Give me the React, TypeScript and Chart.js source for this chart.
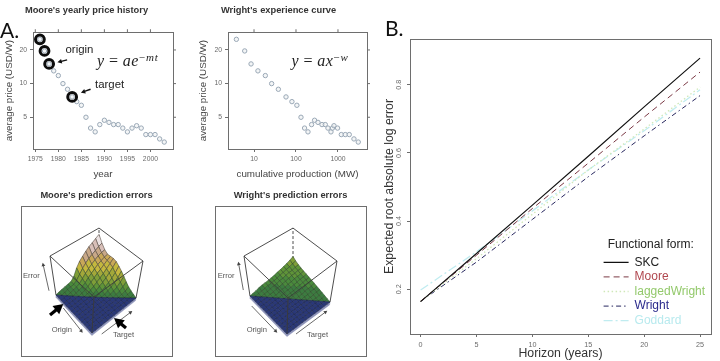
import React, { useEffect, useRef } from "react";
import { Chart, registerables } from "chart.js";

Chart.register(...registerables);

// ---------- Panel A: price histories ----------
const years = [1976, 1977, 1978, 1979, 1980, 1981, 1982, 1983, 1984, 1985, 1986, 1987, 1988, 1989, 1990, 1991, 1992, 1993, 1994, 1995, 1996, 1997, 1998, 1999, 2000, 2001, 2002, 2003];
const prices = [24.9, 19.6, 15, 13, 11.8, 10, 8.9, 7.6, 6.9, 6.4, 5, 4, 3.7, 4.3, 4.7, 4.5, 4.3, 4.3, 4, 3.7, 4, 4.2, 4, 3.5, 3.5, 3.5, 3.2, 3];
const production = [3.8, 6, 8.5, 12.4, 18.6, 26.3, 38, 57.8, 80, 105, 131.5, 160, 193, 235, 277, 334, 416, 499, 578, 681, 740, 803, 978, 1200, 1493, 1858, 2404, 3042];
const highlightedYears = [1976, 1977, 1978, 1983];
const yearTicks = [1975, 1980, 1985, 1990, 1995, 2000];
const priceTicks = [5, 10, 20];
const productionTicks = [10, 100, 1000];

// ---------- Panel A: error surfaces (row = origin step, column = target step) ----------
const mooreErrors = [
  [0, 0.02, 0.03, 0.04, 0.05, 0.06, 0.14, 0.3, 0.42, 0.5, 0.58, 0.65, 0.7, 0.76, 0.82],
  [0, 0, 0.02, 0.03, 0.04, 0.05, 0.1, 0.2, 0.3, 0.38, 0.45, 0.5, 0.55, 0.6, 0.64],
  [0, 0, 0, 0.02, 0.03, 0.05, 0.08, 0.15, 0.23, 0.3, 0.36, 0.42, 0.47, 0.5, 0.52],
  [0, 0, 0, 0, 0.02, 0.03, 0.06, 0.11, 0.18, 0.24, 0.3, 0.36, 0.4, 0.44, 0.46],
  [0, 0, 0, 0, 0, 0.02, 0.04, 0.08, 0.13, 0.19, 0.25, 0.3, 0.36, 0.42, 0.47],
  [0, 0, 0, 0, 0, 0, 0.02, 0.05, 0.09, 0.14, 0.19, 0.25, 0.32, 0.4, 0.48],
  [0, 0, 0, 0, 0, 0, 0, 0.02, 0.05, 0.1, 0.14, 0.2, 0.27, 0.36, 0.46],
  [0, 0, 0, 0, 0, 0, 0, 0, 0.02, 0.05, 0.09, 0.14, 0.2, 0.28, 0.4],
  [0, 0, 0, 0, 0, 0, 0, 0, 0, 0.02, 0.05, 0.09, 0.14, 0.22, 0.33],
  [0, 0, 0, 0, 0, 0, 0, 0, 0, 0, 0.02, 0.05, 0.09, 0.16, 0.25],
  [0, 0, 0, 0, 0, 0, 0, 0, 0, 0, 0, 0.02, 0.05, 0.1, 0.17],
  [0, 0, 0, 0, 0, 0, 0, 0, 0, 0, 0, 0, 0.02, 0.05, 0.1],
  [0, 0, 0, 0, 0, 0, 0, 0, 0, 0, 0, 0, 0, 0.02, 0.06],
  [0, 0, 0, 0, 0, 0, 0, 0, 0, 0, 0, 0, 0, 0, 0.03],
  [0, 0, 0, 0, 0, 0, 0, 0, 0, 0, 0, 0, 0, 0, 0],
];
const wrightErrors = [
  [0, 0.01, 0.02, 0.04, 0.05, 0.05, 0.05, 0.06, 0.07, 0.09, 0.1, 0.12, 0.14, 0.17, 0.21],
  [0, 0, 0.01, 0.02, 0.03, 0.04, 0.04, 0.05, 0.06, 0.08, 0.09, 0.11, 0.12, 0.14, 0.16],
  [0, 0, 0, 0.01, 0.02, 0.03, 0.04, 0.05, 0.06, 0.07, 0.09, 0.1, 0.1, 0.12, 0.13],
  [0, 0, 0, 0, 0.01, 0.02, 0.03, 0.04, 0.05, 0.06, 0.08, 0.09, 0.09, 0.1, 0.11],
  [0, 0, 0, 0, 0, 0.01, 0.02, 0.03, 0.04, 0.05, 0.06, 0.08, 0.08, 0.09, 0.1],
  [0, 0, 0, 0, 0, 0, 0.01, 0.02, 0.03, 0.04, 0.05, 0.06, 0.07, 0.08, 0.09],
  [0, 0, 0, 0, 0, 0, 0, 0.01, 0.02, 0.03, 0.04, 0.05, 0.06, 0.07, 0.08],
  [0, 0, 0, 0, 0, 0, 0, 0, 0.01, 0.02, 0.03, 0.04, 0.05, 0.06, 0.07],
  [0, 0, 0, 0, 0, 0, 0, 0, 0, 0.01, 0.02, 0.03, 0.04, 0.05, 0.06],
  [0, 0, 0, 0, 0, 0, 0, 0, 0, 0, 0.01, 0.02, 0.03, 0.04, 0.05],
  [0, 0, 0, 0, 0, 0, 0, 0, 0, 0, 0, 0.01, 0.02, 0.03, 0.04],
  [0, 0, 0, 0, 0, 0, 0, 0, 0, 0, 0, 0, 0.01, 0.02, 0.03],
  [0, 0, 0, 0, 0, 0, 0, 0, 0, 0, 0, 0, 0, 0.01, 0.02],
  [0, 0, 0, 0, 0, 0, 0, 0, 0, 0, 0, 0, 0, 0, 0.01],
  [0, 0, 0, 0, 0, 0, 0, 0, 0, 0, 0, 0, 0, 0, 0],
];

// ---------- Panel B ----------
const horizons = [0, 5, 10, 15, 20, 25];
const skcError = [0.164, 0.305, 0.447, 0.59, 0.735, 0.878];
const mooreError = [0.165, 0.3, 0.437, 0.57, 0.705, 0.837];
const laggedWrightError = [0.165, 0.29, 0.42, 0.55, 0.67, 0.793];
const wrightError = [0.165, 0.28, 0.405, 0.53, 0.65, 0.768];
const goddardError = [0.198, 0.31, 0.43, 0.55, 0.665, 0.785];
const horizonTicks = [0, 5, 10, 15, 20, 25];
const errorTicks = [0.2, 0.4, 0.6, 0.8];

const INK = "#6e6e6e";
const TICK_TEXT = "#6a6a6a";
const SANS = "'Liberation Sans', Arial, sans-serif";

type XY = [number, number];
type Arrow = { from: XY; to: XY; width: number; head: number; color: string };

// Frame, mirrored lattice ticks and annotation arrows, placed through the chart's scales.
function overlay(mirror: boolean, arrows: Arrow[], frameColor = INK) {
  return {
    id: "overlay",
    afterDatasetsDraw(chart: any) {
      const { ctx, chartArea: a, scales } = chart;
      ctx.save();
      ctx.strokeStyle = frameColor;
      ctx.lineWidth = 1;
      ctx.strokeRect(Math.round(a.left) + 0.5, Math.round(a.top) + 0.5, Math.round(a.right - a.left), Math.round(a.bottom - a.top));
      if (mirror) {
        ctx.beginPath();
        scales.x.ticks.forEach((t: any) => {
          const p = scales.x.getPixelForValue(t.value);
          ctx.moveTo(p, a.top);
          ctx.lineTo(p, a.top - 3);
        });
        scales.y.ticks.forEach((t: any) => {
          const p = scales.y.getPixelForValue(t.value);
          ctx.moveTo(a.right, p);
          ctx.lineTo(a.right + 3, p);
        });
        ctx.stroke();
      }
      arrows.forEach((ar) => {
        const x0 = scales.x.getPixelForValue(ar.from[0]);
        const y0 = scales.y.getPixelForValue(ar.from[1]);
        const x1 = scales.x.getPixelForValue(ar.to[0]);
        const y1 = scales.y.getPixelForValue(ar.to[1]);
        const ang = Math.atan2(y1 - y0, x1 - x0);
        ctx.strokeStyle = ar.color;
        ctx.fillStyle = ar.color;
        ctx.lineWidth = ar.width;
        ctx.beginPath();
        ctx.moveTo(x0, y0);
        ctx.lineTo(x1 - Math.cos(ang) * ar.head * 0.6, y1 - Math.sin(ang) * ar.head * 0.6);
        ctx.stroke();
        ctx.beginPath();
        ctx.moveTo(x1, y1);
        ctx.lineTo(x1 - Math.cos(ang - 0.5) * ar.head, y1 - Math.sin(ang - 0.5) * ar.head);
        ctx.lineTo(x1 - Math.cos(ang + 0.5) * ar.head, y1 - Math.sin(ang + 0.5) * ar.head);
        ctx.closePath();
        ctx.fill();
      });
      ctx.restore();
    },
  };
}

const fixedTicks = (list: number[]) => (s: any) => {
  s.ticks = list.map((value) => ({ value }));
};
const fixedWidth = (w: number) => (s: any) => {
  s.width = w;
};
const fixedHeight = (h: number) => (s: any) => {
  s.height = h;
};

const axisGrid = { drawOnChartArea: false, drawTicks: true, tickLength: 3, color: INK };

function titleOpt(text: string, top: number, bottom: number) {
  return {
    display: true,
    text,
    color: "#333",
    font: { family: SANS, size: 9.3, weight: "bold" as const, lineHeight: 1.2 },
    padding: { top, bottom },
  };
}

function priceChart(canvas: HTMLCanvasElement, cfg: any) {
  return new Chart(canvas, {
    type: "scatter",
    data: { datasets: cfg.datasets },
    options: {
      animation: false,
      responsive: false,
      devicePixelRatio: 1,
      layout: { padding: { left: 0, right: cfg.padRight, top: 0, bottom: 0 } },
      plugins: {
        legend: { display: false },
        tooltip: { enabled: false },
        title: titleOpt(cfg.title, 4.5, 16.6),
      },
      scales: {
        x: {
          ...cfg.x,
          afterFit: fixedHeight(31),
          grid: axisGrid,
          border: { display: false },
          ticks: { color: TICK_TEXT, font: { family: SANS, size: 6.8 }, padding: 3, autoSkip: false, maxRotation: 0, callback: (v: any) => String(v) },
          title: { display: true, text: cfg.xTitle, color: "#444", font: { family: SANS, size: 9.8 }, padding: { top: 2, bottom: 0 } },
        },
        y: {
          type: "logarithmic",
          min: 2.6,
          max: 28.8,
          afterBuildTicks: fixedTicks(priceTicks),
          afterFit: fixedWidth(cfg.yWidth),
          grid: axisGrid,
          border: { display: false },
          ticks: { color: TICK_TEXT, font: { family: SANS, size: 6.8 }, padding: 3, autoSkip: false, callback: (v: any) => String(v) },
          title: { display: true, text: "average price (USD/W)", color: "#444", font: { family: SANS, size: 9.8 }, padding: { top: cfg.yTitleOffset, bottom: 0 } },
        },
      } as any,
    },
    plugins: [overlay(true, cfg.arrows)],
  } as any);
}

const pointStyleFor = (points: { x: number; y: number }[]) => ({
  data: points,
  pointRadius: 2.2,
  pointBorderWidth: 1,
  pointBorderColor: "#9aa8b6",
  pointBackgroundColor: "rgba(235,238,240,0.6)",
  showLine: false,
});

const ringStyleFor = (points: { x: number; y: number }[]) => ({
  data: points,
  pointRadius: 4.4,
  pointBorderWidth: 3,
  pointBorderColor: "#0c0c0c",
  pointBackgroundColor: "rgba(0,0,0,0)",
  showLine: false,
});

// ---------- Surface ----------
type Corners = { L: XY; B: XY; R: XY; F: XY; Lt: XY; Bt: XY; Rt: XY; Ft: XY };

const mooreBox: Corners = { L: [56, 295], B: [99, 263], R: [136, 298], F: [92, 333], Lt: [50, 256], Bt: [99, 228], Rt: [143, 261], Ft: [94, 297] };
const wrightBox: Corners = { L: [250, 296], B: [293, 264], R: [330, 302], F: [287, 334], Lt: [244, 256], Bt: [293, 228], Rt: [337, 261], Ft: [288, 298] };

const heightBands: [number, string][] = [
  [0.04, "#3c7c40"],
  [0.08, "#4a8a3c"],
  [0.13, "#5f9438"],
  [0.2, "#7f9e38"],
  [0.28, "#a3a83a"],
  [0.38, "#c4b83e"],
  [0.47, "#c9a858"],
  [0.56, "#c8a888"],
  [0.68, "#d8bfb8"],
  [9, "#ece2e2"],
];
const FLOOR_BLUE = "#2a3878";

function bandColor(h: number) {
  for (const [limit, color] of heightBands) if (h <= limit) return color;
  return "#f2ecec";
}

function project(box: Corners, s: number, t: number, h: number) {
  const bil = (a: XY, b: XY, c: XY, d: XY, i: number) => (1 - s) * (1 - t) * a[i] + s * (1 - t) * b[i] + s * t * c[i] + (1 - s) * t * d[i];
  const fx = bil(box.L, box.B, box.R, box.F, 0);
  const fy = bil(box.L, box.B, box.R, box.F, 1);
  const tx = bil(box.Lt, box.Bt, box.Rt, box.Ft, 0);
  const ty = bil(box.Lt, box.Bt, box.Rt, box.Ft, 1);
  return { x: fx + (tx - fx) * h, y: fy + (ty - fy) * h };
}

function surfaceDatasets(box: Corners, grid: number[][], meshBlue: string, meshGreen: string) {
  const n = grid.length - 1;
  const cells: { depth: number; ds: any }[] = [];
  const poly = (keys: [number, number][], color: string, mesh: string, depth: number) => {
    const pts = keys.map(([j, i]) => project(box, j / n, i / n, grid[i][j]));
    pts.push(pts[0]);
    cells.push({
      depth,
      ds: { data: pts, fill: "shape", backgroundColor: color, borderColor: mesh, borderWidth: 0.55, pointRadius: 0, tension: 0 },
    });
  };
  for (let i = 0; i < n; i++) {
    for (let j = 0; j < n; j++) {
      const depth = i - j;
      if (i === j) {
        poly([[j, i], [j + 1, i + 1], [j, i + 1]], FLOOR_BLUE, meshBlue, depth + 0.5);
        poly([[j, i], [j + 1, i], [j + 1, i + 1]], heightBands[0][1], meshGreen, depth);
      } else if (i > j) {
        poly([[j, i], [j + 1, i], [j + 1, i + 1], [j, i + 1]], FLOOR_BLUE, meshBlue, depth);
      } else {
        const avg = (grid[i][j] + grid[i][j + 1] + grid[i + 1][j] + grid[i + 1][j + 1]) / 4;
        poly([[j, i], [j + 1, i], [j + 1, i + 1], [j, i + 1]], bandColor(avg), avg > 0.3 ? "#4a4038" : meshGreen, depth);
      }
    }
  }
  cells.sort((a, b) => b.depth - a.depth);
  const edge = (pts: XY[], dash: number[] = []) => ({
    data: pts.map(([x, y]) => ({ x, y })),
    borderColor: "#3a3a3a",
    borderWidth: 0.9,
    borderDash: dash,
    pointRadius: 0,
    fill: false,
    tension: 0,
  });
  const front = [edge([box.Lt, box.Ft, box.Rt]), edge([box.F, box.Ft])];
  const back = [
    edge([box.Lt, box.Bt, box.Rt]),
    edge([box.L, box.Lt]),
    edge([box.R, box.Rt]),
    edge([box.B, box.Bt], [3, 2]),
  ];
  const skirtPts = [project(box, 0, 0, 0), project(box, 0, 1, 0), project(box, 1, 1, 0), project(box, 1, 1, -0.07), project(box, 0, 1, -0.07), project(box, 0, 0, -0.07)];
  skirtPts.push(skirtPts[0]);
  const skirt = { data: skirtPts, fill: "shape", backgroundColor: "#8d93b8", borderColor: "#8d93b8", borderWidth: 0.5, pointRadius: 0, tension: 0 };
  return [...front, ...cells.map((c) => c.ds), skirt, ...back];
}

function surfaceChart(canvas: HTMLCanvasElement, cfg: any) {
  return new Chart(canvas, {
    type: "line",
    data: { datasets: cfg.datasets },
    options: {
      animation: false,
      responsive: false,
      devicePixelRatio: 1,
      layout: { padding: { left: cfg.padLeft, right: cfg.padRight, top: 0, bottom: 5 } },
      plugins: {
        legend: { display: false },
        tooltip: { enabled: false },
        title: titleOpt(cfg.title, 9.5, 5.4),
      },
      scales: {
        x: { type: "linear", display: false, min: cfg.xMin, max: cfg.xMax },
        y: { type: "linear", display: false, min: 206, max: 356, reverse: true },
      },
    },
    plugins: [overlay(false, cfg.arrows)],
  } as any);
}

function Label(p: { x: number; y: number; size: number; color?: string; family?: string; spacing?: number; children: React.ReactNode }) {
  return (
    <div
      style={{
        position: "absolute",
        left: p.x,
        top: p.y,
        transform: "translateY(-50%)",
        fontSize: p.size,
        lineHeight: 1,
        letterSpacing: p.spacing || 0,
        color: p.color || "#333",
        fontFamily: p.family || SANS,
        whiteSpace: "nowrap",
      }}
    >
      {p.children}
    </div>
  );
}

export default function App() {
  const a1 = useRef<HTMLCanvasElement>(null);
  const a2 = useRef<HTMLCanvasElement>(null);
  const a3 = useRef<HTMLCanvasElement>(null);
  const a4 = useRef<HTMLCanvasElement>(null);
  const b = useRef<HTMLCanvasElement>(null);

  useEffect(() => {
    const moorePts = years.map((x, i) => ({ x, y: prices[i] }));
    const ringPts = moorePts.filter((p) => highlightedYears.includes(p.x));
    const wrightPts = production.map((x, i) => ({ x, y: prices[i] }));

    const thin = (from: XY, to: XY): Arrow => ({ from, to, width: 0.8, head: 4, color: "#444" });
    const fat = (from: XY, to: XY): Arrow => ({ from, to, width: 3.2, head: 11, color: "#000" });
    const note = (from: XY, to: XY): Arrow => ({ from, to, width: 1.4, head: 5, color: "#111" });

    const charts = [
      priceChart(a1.current!, {
        title: "Moore's yearly price history",
        padRight: 17,
        yWidth: 33,
        yTitleOffset: 3,
        xTitle: "year",
        x: { type: "linear", min: 1974.5, max: 2004.9, afterBuildTicks: fixedTicks(yearTicks) },
        datasets: [ringStyleFor(ringPts), pointStyleFor(moorePts)],
        arrows: [note([1981.9, 16.3], [1979.8, 15.5]), note([1987, 8.9], [1984.9, 8.3])],
      }),
      priceChart(a2.current!, {
        title: "Wright's experience curve",
        padRight: 19,
        yWidth: 38,
        yTitleOffset: 7,
        xTitle: "cumulative production (MW)",
        x: { type: "logarithmic", min: 2.4, max: 4915, afterBuildTicks: fixedTicks(productionTicks) },
        datasets: [pointStyleFor(wrightPts)],
        arrows: [],
      }),
      surfaceChart(a3.current!, {
        title: "Moore's prediction errors",
        padLeft: 21,
        padRight: 16,
        xMin: 21,
        xMax: 172,
        datasets: surfaceDatasets(mooreBox, mooreErrors, "#1c2448", "#2c4a26"),
        arrows: [
          thin([49, 290.7], [42.7, 262.7]),
          thin([63.3, 308], [82.7, 332.7]),
          thin([101.7, 334], [132.3, 311]),
          fat([50, 315], [63.3, 304]),
          fat([126, 328], [114, 318]),
        ],
      }),
      surfaceChart(a4.current!, {
        title: "Wright's prediction errors",
        padLeft: 25,
        padRight: 20,
        xMin: 215,
        xMax: 366,
        datasets: surfaceDatasets(wrightBox, wrightErrors, "#1c2448", "#2c4a26"),
        arrows: [thin([243.3, 290], [238.3, 261.7]), thin([251.7, 306], [277.3, 332.7]), thin([296, 334], [327.3, 310.7])],
      }),
    ];

    const series = [
      { label: "SKC", values: skcError, line: "#111111", text: "#222222", dash: [] as number[], width: 1.2 },
      { label: "Moore", values: mooreError, line: "#7a3844", text: "#b0474f", dash: [6, 4], width: 1 },
      { label: "laggedWright", values: laggedWrightError, line: "#cfe8b8", text: "#93c96b", dash: [1.5, 2.5], width: 1.3 },
      { label: "Wright", values: wrightError, line: "#26265e", text: "#2a2a8c", dash: [5, 3, 1.5, 3], width: 1 },
      { label: "Goddard", values: goddardError, line: "#c0ecf0", text: "#b8eaee", dash: [9, 3, 2, 3], width: 1.3 },
    ];

    const legendPlace = {
      id: "legendPlace",
      beforeDraw(chart: any) {
        const lg = chart.legend;
        const h = lg.height;
        lg.left = 226;
        lg.width = 99.4;
        lg.right = 226 + 110;
        lg.top = 238.5;
        lg.bottom = 238.5 + h;
      },
    };

    charts.push(
      new Chart(b.current!, {
        type: "line",
        data: {
          datasets: series.map((s) => ({
            label: s.label,
            data: horizons.map((x, i) => ({ x, y: s.values[i] })),
            borderColor: s.line,
            borderDash: s.dash,
            borderWidth: s.width,
            pointRadius: 0,
            fill: false,
            tension: 0,
          })),
        },
        options: {
          animation: false,
          responsive: false,
          devicePixelRatio: 1,
          layout: { padding: { left: 0, right: 9, top: 39, bottom: 0 } },
          plugins: {
            tooltip: { enabled: false },
            legend: {
              position: "chartArea",
              align: "start",
              title: { display: true, text: "Functional form:", color: "#222", position: "center", font: { family: SANS, size: 12, lineHeight: 1 }, padding: { top: 0, bottom: 3.2 } },
              labels: {
                font: { family: SANS, size: 12, lineHeight: 1 },
                padding: 2.6,
                usePointStyle: true,
                pointStyleWidth: 25,
                boxHeight: 12,
                generateLabels: () =>
                  series.map((s) => ({
                    text: s.label,
                    fontColor: s.text,
                    strokeStyle: s.line,
                    lineDash: s.dash,
                    lineWidth: s.width,
                    pointStyle: "line",
                    fillStyle: s.line,
                    hidden: false,
                  })),
              },
            },
          },
          scales: {
            x: {
              type: "linear",
              min: -0.95,
              max: 25.98,
              afterBuildTicks: fixedTicks(horizonTicks),
              afterFit: fixedHeight(27),
              grid: axisGrid,
              border: { display: false },
              ticks: { color: TICK_TEXT, font: { family: SANS, size: 7.2 }, padding: 4, autoSkip: false, maxRotation: 0, callback: (v: any) => String(v) },
              title: { display: true, text: "Horizon (years)", color: "#333", font: { family: SANS, size: 12.3 }, padding: { top: 0.5, bottom: 0 } },
            },
            y: {
              type: "linear",
              min: 0.069,
              max: 0.934,
              afterBuildTicks: fixedTicks(errorTicks),
              afterFit: fixedWidth(35),
              grid: axisGrid,
              border: { display: false },
              ticks: { color: TICK_TEXT, font: { family: SANS, size: 7.2 }, padding: 3, autoSkip: false, minRotation: 90, maxRotation: 90, crossAlign: "center", callback: (v: any) => Number(v).toFixed(1) },
              title: { display: true, text: "Expected root absolute log error", color: "#333", font: { family: SANS, size: 12.3 }, padding: { top: 7, bottom: 0 } },
            },
          },
        } as any,
        plugins: [overlay(false, []), legendPlace],
      } as any)
    );
    return () => charts.forEach((c) => c.destroy());
  }, []);

  const cv = (left: number, top: number): React.CSSProperties => ({ position: "absolute", left, top });
  const serif = "'Liberation Serif', 'DejaVu Serif', serif";
  const supStyle: React.CSSProperties = { fontSize: 11, verticalAlign: 5, lineHeight: 0, letterSpacing: 1 };

  return (
    <div style={{ position: "absolute", left: 0, top: 0, width: 720, height: 361, background: "#fff", overflow: "hidden" }}>
      <canvas ref={a1} width={190} height={180} style={cv(0, 0)} />
      <canvas ref={a2} width={196} height={180} style={cv(190, 0)} />
      <canvas ref={a3} width={188} height={181} style={cv(0, 180)} />
      <canvas ref={a4} width={196} height={181} style={cv(190, 180)} />
      <canvas ref={b} width={345} height={361} style={cv(375, 0)} />

      <Label x={0} y={29} size={21} family="Lato, sans-serif" color="#111">A.</Label>
      <Label x={385} y={27} size={21} family="Lato, sans-serif" color="#111">B.</Label>

      <Label x={65.5} y={50} size={11.4} color="#222">origin</Label>
      <Label x={95} y={85} size={11.4} color="#222">target</Label>
      <Label x={97} y={61} size={16} spacing={0.4} family={serif} color="#222">
        <i>y</i> = <i>ae</i><sup style={supStyle}>−<i>mt</i></sup>
      </Label>
      <Label x={291.5} y={61} size={16} spacing={0.4} family={serif} color="#222">
        <i>y</i> = <i>ax</i><sup style={supStyle}>−<i>w</i></sup>
      </Label>

      <Label x={23} y={276} size={7.6} color="#555">Error</Label>
      <Label x={51.7} y={330} size={7.6} color="#555">Origin</Label>
      <Label x={113} y={335} size={7.6} color="#555">Target</Label>
      <Label x={217.7} y={276} size={7.6} color="#555">Error</Label>
      <Label x={246.7} y={330} size={7.6} color="#555">Origin</Label>
      <Label x={307} y={335} size={7.6} color="#555">Target</Label>
    </div>
  );
}
